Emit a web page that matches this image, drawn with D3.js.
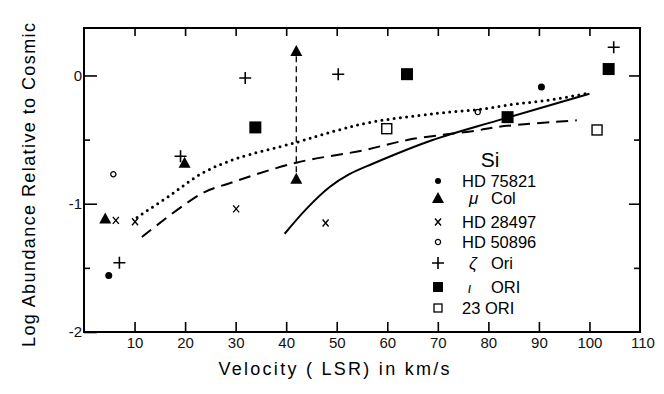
<!DOCTYPE html>
<html><head><meta charset="utf-8">
<script src="https://cdn.jsdelivr.net/npm/d3@7"></script>
<style>
body{margin:0;background:#fff;}
svg{display:block;font-family:"Liberation Sans",Arial,sans-serif;}
</style></head>
<body><svg id="c" width="664" height="394"></svg>
<script>
// ---- data (velocity km/s, log abundance) ----
const hd75821 = [[4.9,-1.56],[90.5,-0.09]];
const muCol   = [[4.2,-1.115],[19.9,-0.68],[42,0.19],[42,-0.805]];
const hd28497 = [[6.3,-1.13],[10.1,-1.14],[30.1,-1.04],[47.8,-1.15]];
const hd50896 = [[5.8,-0.77],[77.9,-0.285]];
const zetaOri = [[7.0,-1.46],[19.1,-0.63],[31.9,-0.02],[50.3,0.01],[104.8,0.22]];
const iotaOri = [[33.9,-0.405],[63.9,0.01],[83.8,-0.325],[103.8,0.05]];
const ori23   = [[59.9,-0.415],[101.5,-0.425]];
const dottedCurve = [[10.5,-1.107],[17,-0.935],[23.3,-0.764],[30,-0.65],[42,-0.522],[50,-0.429],[56.5,-0.366],[69.7,-0.296],[78.2,-0.265],[86.1,-0.218],[90.6,-0.2],[99.9,-0.138]];
const dashedCurve = [[11.45,-1.26],[23.3,-0.92],[28.8,-0.84],[42,-0.68],[55.1,-0.585],[64.4,-0.50],[77.6,-0.43],[82.1,-0.40],[97.5,-0.35]];
const solidCurve  = [[39.7,-1.234],[44,-1.04],[48.6,-0.87],[52.5,-0.77],[57,-0.69],[68.7,-0.507],[81.9,-0.35],[100,-0.143]];
const muColRange  = [[42,0.15],[42,-0.77]];
const xTicks = [10,20,30,40,50,60,70,80,90,100,110];
const yMajor = [-2,-1,0];
const yMinor = [-1.5,-0.5];
const legendNames = [["HD 75821"],["μ","Col"],["HD 28497"],["HD 50896"],["ζ","Ori"],["ι","ORI"],["23 ORI"]];

const svg = d3.select("#c");
const x = d3.scaleLinear().domain([0,110]).range([84,640]);
const y = d3.scaleLinear().domain([-2,0.37]).range([332,28]);

// frame
svg.append("rect").attr("x",84).attr("y",28).attr("width",556).attr("height",304)
  .attr("fill","none").attr("stroke","#000").attr("stroke-width",2);

function styleAxis(g){g.select(".domain").remove();g.selectAll("line").attr("stroke","#000").attr("stroke-width",1.6);}

// bottom axis
svg.append("g").attr("transform","translate(0,332)")
  .call(d3.axisBottom(x).tickValues(xTicks).tickSize(-10).tickPadding(5))
  .call(styleAxis)
  .call(g=>{g.selectAll("text").attr("font-size",15).attr("fill","#111");
            g.selectAll(".tick").filter(d=>d===110).attr("transform",`translate(${x(110)+3},0)`).select("line").remove();});
// top axis
svg.append("g").attr("transform","translate(0,28)")
  .call(d3.axisTop(x).tickValues(xTicks.filter(d=>d<110)).tickSize(-8).tickFormat(""))
  .call(styleAxis);
// left axis
svg.append("g").attr("transform","translate(84,0)")
  .call(d3.axisLeft(y).tickValues(yMajor).tickSize(-13).tickPadding(2).tickFormat(d=>d===0?"0":("-"+Math.abs(d))))
  .call(styleAxis)
  .call(g=>g.selectAll("text").attr("font-size",15).attr("fill","#111"));
svg.append("g").attr("transform","translate(84,0)")
  .call(d3.axisLeft(y).tickValues(yMinor).tickSize(-6).tickFormat(""))
  .call(styleAxis);
// right axis
svg.append("g").attr("transform","translate(640,0)")
  .call(d3.axisRight(y).tickValues(yMajor.filter(d=>d>-2)).tickSize(-11).tickFormat(""))
  .call(styleAxis);
svg.append("g").attr("transform","translate(640,0)")
  .call(d3.axisRight(y).tickValues(yMinor).tickSize(-6).tickFormat(""))
  .call(styleAxis);

// curves
const line = d3.line().x(d=>x(d[0])).y(d=>y(d[1])).curve(d3.curveCatmullRom.alpha(0.5));
svg.append("path").attr("d",line(dottedCurve)).attr("fill","none").attr("stroke","#000")
  .attr("stroke-width",3).attr("stroke-linecap","round").attr("stroke-dasharray","0 6.2");
svg.append("path").attr("d",line(dashedCurve)).attr("fill","none").attr("stroke","#000")
  .attr("stroke-width",2).attr("stroke-dasharray","12 7");
svg.append("path").attr("d",line(solidCurve)).attr("fill","none").attr("stroke","#000")
  .attr("stroke-width",2);
svg.append("path").attr("d",d3.line().x(d=>x(d[0])).y(d=>y(d[1]))(muColRange)).attr("fill","none")
  .attr("stroke","#000").attr("stroke-width",1.3).attr("stroke-dasharray","6 4");

// markers
const mk = {
  dot: (g)=>g.append("circle").attr("r",3.5).attr("fill","#000"),
  tri: (g)=>g.append("path").attr("d","M0,-6L6,5L-6,5Z").attr("fill","#000"),
  x:   (g)=>g.append("path").attr("d","M-3,-3.5L3,3.5M3,-3.5L-3,3.5").attr("stroke","#000").attr("stroke-width",1.4),
  oc:  (g)=>g.append("circle").attr("r",2.6).attr("fill","none").attr("stroke","#000").attr("stroke-width",1.3),
  plus:(g)=>g.append("path").attr("d","M-6,0H6M0,-6V6").attr("stroke","#000").attr("stroke-width",1.6),
  fs:  (g)=>g.append("rect").attr("x",-6).attr("y",-6).attr("width",12).attr("height",12).attr("fill","#000"),
  os:  (g)=>g.append("rect").attr("x",-5).attr("y",-5).attr("width",10).attr("height",10).attr("fill","#fff").attr("stroke","#000").attr("stroke-width",1.4)
};
const series = [[hd75821,"dot"],[muCol,"tri"],[hd28497,"x"],[hd50896,"oc"],[zetaOri,"plus"],[iotaOri,"fs"],[ori23,"os"]];
series.forEach(([data,type])=>{
  svg.append("g").selectAll("g").data(data).join("g")
    .attr("transform",d=>`translate(${x(d[0])},${y(d[1])})`)
    .each(function(){mk[type](d3.select(this));});
});

// legend
svg.append("text").attr("x",490).attr("y",167).attr("font-size",21).attr("text-anchor","middle").text("Si");
const rowsY = [181,198,222,242,263,287,308];
const legTypes = ["dot","tri","x","oc","plus","fs","os"];
rowsY.forEach((ry,i)=>{
  const g = svg.append("g").attr("transform",`translate(438,${ry})`);
  const t = legTypes[i];
  if(t==="fs"){g.append("rect").attr("x",-5).attr("y",-5).attr("width",10).attr("height",10).attr("fill","#000");}
  else if(t==="os"){g.append("rect").attr("x",-4).attr("y",-4).attr("width",8).attr("height",8).attr("fill","#fff").attr("stroke","#000").attr("stroke-width",1.3);}
  else if(t==="dot"){g.append("circle").attr("r",3).attr("fill","#000");}
  else mk[t](g);
  const nm = legendNames[i];
  if(nm.length===1){
    svg.append("text").attr("x",462).attr("y",ry+6).attr("font-size",16.5).text(nm[0]);
  } else {
    svg.append("text").attr("x",nm[0]==="ι"?468:469).attr("y",ry+6).attr("font-size",nm[0]==="ι"?14:17).attr("font-style","italic").text(nm[0]);
    svg.append("text").attr("x",491).attr("y",ry+6).attr("font-size",16.5).text(nm[1]);
  }
});

// axis titles
svg.append("text").attr("x",334).attr("y",375).attr("text-anchor","middle").attr("font-size",18)
  .attr("textLength",231).text("Velocity ( LSR) in km/s");
svg.append("text").attr("transform","translate(35,185) rotate(-90)").attr("text-anchor","middle")
  .attr("font-size",18).attr("textLength",324).text("Log Abundance Relative to Cosmic");
</script></body></html>
